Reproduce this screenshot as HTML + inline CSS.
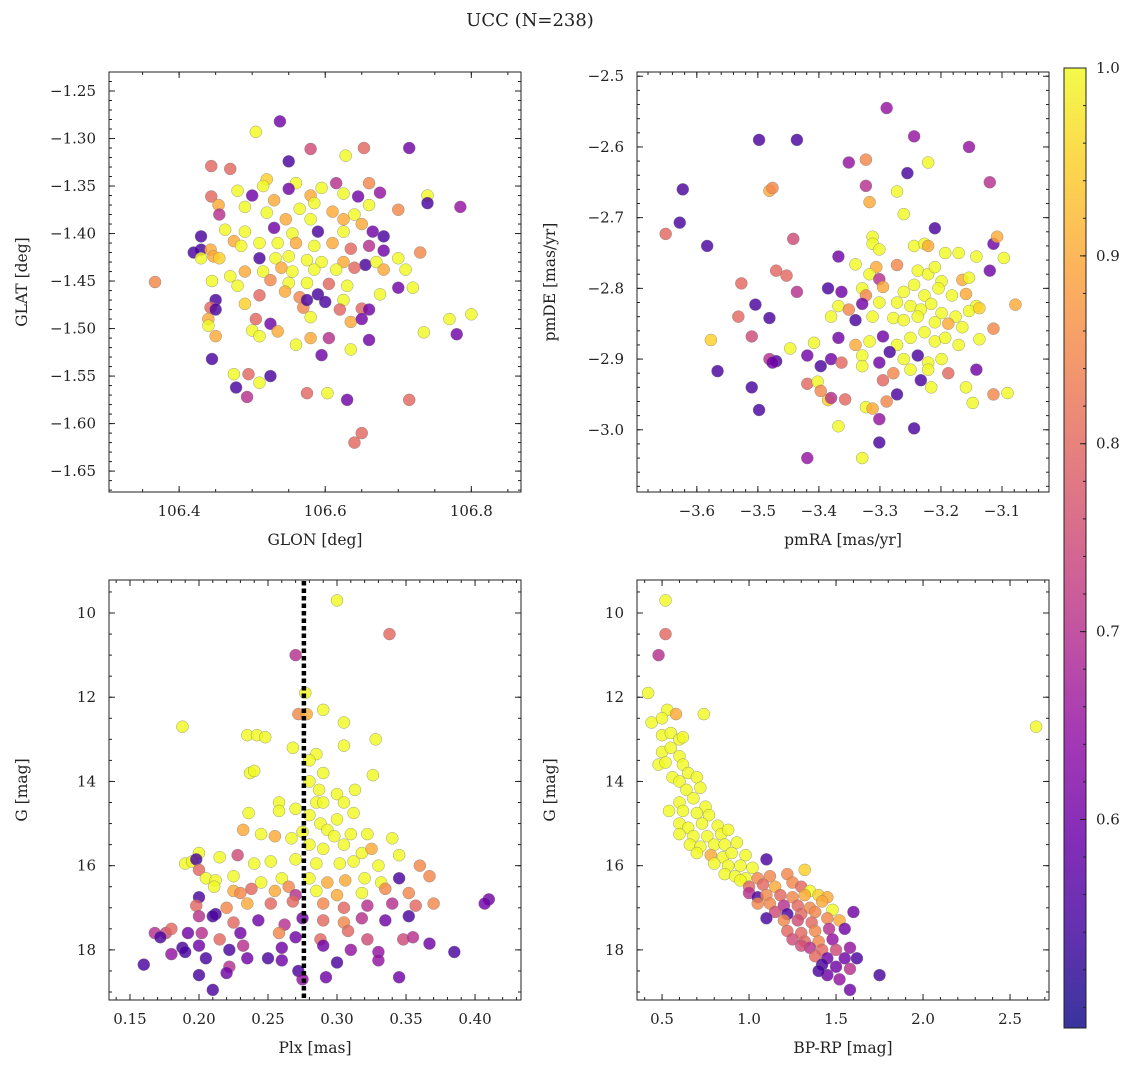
<!DOCTYPE html>
<html><head><meta charset="utf-8"><style>
html,body{margin:0;padding:0;background:#fff}
svg text{font-family:"DejaVu Serif","Liberation Serif",serif;fill:#222}
</style></head><body>
<svg id="fig" width="1136" height="1068" viewBox="0 0 1136 1068" xmlns="http://www.w3.org/2000/svg">
<defs>
<linearGradient id="plasma" x1="0" y1="1" x2="0" y2="0">
<stop offset="0" stop-color="#0d0887"/><stop offset="0.1" stop-color="#41049d"/><stop offset="0.2" stop-color="#6a00a8"/><stop offset="0.3" stop-color="#8f0da4"/><stop offset="0.4" stop-color="#b12a90"/><stop offset="0.5" stop-color="#cc4778"/><stop offset="0.6" stop-color="#e16462"/><stop offset="0.7" stop-color="#f2844b"/><stop offset="0.8" stop-color="#fca636"/><stop offset="0.9" stop-color="#fcce25"/><stop offset="1" stop-color="#f0f921"/>
</linearGradient>
</defs>
<text x="530" y="26" font-size="18" text-anchor="middle">UCC (N=238)</text>
</svg>
<script>
// Panel 1: GLON / GLAT / probability
const p1Lon=[106.367,106.538,106.505,106.653,106.715,106.628,106.58,106.55,106.444,106.47,106.444,106.52,106.515,106.56,106.48,106.50,106.55,106.58,106.595,106.625,106.66,106.645,106.675,106.74,106.74,106.7,106.785,106.615,106.454,106.49,106.53,106.565,106.585,106.61,106.64,106.66,106.455,106.52,106.546,106.58,106.625,106.65,106.463,106.49,106.53,106.555,106.59,106.625,106.665,106.68,106.43,106.43,106.443,106.475,106.485,106.51,106.535,106.56,106.585,106.61,106.635,106.66,106.68,106.73,106.42,106.43,106.447,106.455,106.51,106.532,106.55,106.575,106.595,106.625,106.655,106.67,106.7,106.49,106.515,106.54,106.555,106.585,106.615,106.64,106.68,106.71,106.47,106.525,106.55,106.575,106.605,106.63,106.48,106.445,106.51,106.545,106.565,106.59,106.625,106.675,106.7,106.72,106.45,106.443,106.49,106.6,106.57,106.62,106.65,106.66,106.44,106.58,106.635,106.65,106.505,106.525,106.44,106.77,106.8,106.735,106.78,106.45,106.5,106.51,106.535,106.56,106.58,106.605,106.66,106.595,106.635,106.445,106.525,106.475,106.51,106.478,106.495,106.493,106.575,106.603,106.63,106.715,106.65,106.64,106.45,106.575];
const p1Lat=[-1.451,-1.282,-1.293,-1.310,-1.310,-1.318,-1.311,-1.324,-1.329,-1.332,-1.361,-1.343,-1.35,-1.347,-1.355,-1.36,-1.353,-1.36,-1.352,-1.358,-1.347,-1.361,-1.357,-1.36,-1.368,-1.375,-1.372,-1.347,-1.37,-1.372,-1.365,-1.374,-1.368,-1.377,-1.38,-1.37,-1.38,-1.378,-1.385,-1.385,-1.385,-1.39,-1.396,-1.398,-1.394,-1.4,-1.398,-1.398,-1.398,-1.403,-1.403,-1.417,-1.417,-1.408,-1.413,-1.41,-1.41,-1.41,-1.413,-1.41,-1.416,-1.413,-1.418,-1.42,-1.42,-1.426,-1.424,-1.426,-1.426,-1.426,-1.424,-1.428,-1.43,-1.43,-1.433,-1.43,-1.426,-1.44,-1.44,-1.436,-1.44,-1.438,-1.438,-1.436,-1.438,-1.438,-1.445,-1.449,-1.452,-1.452,-1.453,-1.455,-1.455,-1.45,-1.465,-1.461,-1.467,-1.464,-1.47,-1.464,-1.457,-1.457,-1.47,-1.478,-1.474,-1.472,-1.478,-1.48,-1.479,-1.48,-1.49,-1.488,-1.493,-1.49,-1.49,-1.495,-1.497,-1.49,-1.485,-1.504,-1.506,-1.508,-1.502,-1.508,-1.503,-1.517,-1.51,-1.51,-1.512,-1.528,-1.522,-1.532,-1.55,-1.548,-1.557,-1.562,-1.548,-1.572,-1.568,-1.568,-1.575,-1.575,-1.61,-1.62,-1.48,-1.47];
const p1Prob=[0.85,0.6,1.0,0.8,0.6,1.0,0.75,0.55,0.8,0.8,0.8,0.95,1.0,1.0,1.0,0.6,0.6,0.9,1.0,1.0,0.85,0.6,0.65,1.0,0.55,0.85,0.65,0.7,0.9,1.0,0.9,1.0,1.0,0.9,1.0,1.0,0.7,1.0,0.9,1.0,0.9,0.9,1.0,1.0,0.6,1.0,0.55,1.0,0.6,0.55,0.55,0.55,0.9,0.9,1.0,1.0,1.0,0.9,1.0,0.9,0.8,0.7,0.6,0.85,0.55,1.0,0.9,0.95,0.55,1.0,1.0,1.0,1.0,0.9,0.55,1.0,1.0,0.9,1.0,0.9,1.0,1.0,1.0,0.8,0.9,1.0,1.0,0.85,1.0,1.0,0.8,1.0,1.0,1.0,0.8,0.9,0.85,0.55,1.0,1.0,0.6,1.0,0.55,0.8,0.95,0.55,0.85,0.8,0.8,0.6,0.9,1.0,0.9,0.6,0.8,0.6,1.0,1.0,1.0,1.0,0.6,0.9,1.0,1.0,0.9,1.0,0.9,0.7,0.6,0.6,1.0,0.55,0.55,1.0,1.0,0.55,0.8,0.7,0.8,1.0,0.6,0.8,0.8,0.8,0.55,0.55];
// Panel 2: pmRA / pmDE
const p2RA=[-3.289,-3.498,-3.436,-3.244,-3.154,-3.351,-3.323,-3.255,-3.221,-3.623,-3.481,-3.476,-3.272,-3.323,-3.12,-3.628,-3.651,-3.583,-3.442,-3.261,-3.317,-3.21,-3.114,-3.108,-3.097,-3.312,-3.312,-3.301,-3.244,-3.227,-3.221,-3.193,-3.171,-3.142,-3.368,-3.34,-3.306,-3.272,-3.47,-3.453,-3.436,-3.527,-3.317,-3.301,-3.238,-3.221,-3.21,-3.199,-3.165,-3.154,-3.12,-3.385,-3.363,-3.329,-3.323,-3.295,-3.261,-3.244,-3.227,-3.204,-3.182,-3.159,-3.142,-3.078,-3.504,-3.368,-3.351,-3.329,-3.301,-3.272,-3.25,-3.233,-3.216,-3.199,-3.176,-3.154,-3.137,-3.532,-3.481,-3.38,-3.34,-3.312,-3.278,-3.261,-3.238,-3.21,-3.188,-3.165,-3.114,-3.51,-3.577,-3.408,-3.368,-3.34,-3.317,-3.295,-3.272,-3.25,-3.227,-3.21,-3.193,-3.171,-3.137,-3.447,-3.419,-3.38,-3.329,-3.301,-3.284,-3.261,-3.238,-3.221,-3.199,-3.566,-3.481,-3.47,-3.397,-3.363,-3.329,-3.278,-3.25,-3.221,-3.188,-3.142,-3.51,-3.419,-3.402,-3.397,-3.385,-3.38,-3.295,-3.272,-3.233,-3.216,-3.159,-3.148,-3.114,-3.091,-3.498,-3.323,-3.312,-3.301,-3.357,-3.289,-3.368,-3.419,-3.329,-3.301,-3.244,-3.476];
const p2DE=[-2.545,-2.59,-2.59,-2.585,-2.60,-2.622,-2.618,-2.637,-2.622,-2.66,-2.662,-2.658,-2.663,-2.655,-2.65,-2.707,-2.723,-2.74,-2.73,-2.695,-2.678,-2.715,-2.737,-2.727,-2.757,-2.727,-2.737,-2.745,-2.74,-2.737,-2.74,-2.75,-2.75,-2.755,-2.755,-2.766,-2.77,-2.767,-2.775,-2.782,-2.805,-2.793,-2.78,-2.787,-2.775,-2.78,-2.77,-2.79,-2.788,-2.785,-2.775,-2.8,-2.805,-2.8,-2.81,-2.798,-2.805,-2.795,-2.81,-2.8,-2.81,-2.808,-2.825,-2.823,-2.823,-2.825,-2.83,-2.822,-2.82,-2.82,-2.825,-2.83,-2.822,-2.835,-2.84,-2.832,-2.828,-2.84,-2.842,-2.84,-2.845,-2.84,-2.842,-2.845,-2.84,-2.848,-2.85,-2.855,-2.857,-2.868,-2.873,-2.877,-2.87,-2.88,-2.875,-2.868,-2.88,-2.87,-2.862,-2.875,-2.87,-2.88,-2.872,-2.885,-2.895,-2.9,-2.895,-2.905,-2.89,-2.9,-2.895,-2.905,-2.9,-2.917,-2.9,-2.903,-2.91,-2.905,-2.91,-2.92,-2.915,-2.915,-2.92,-2.915,-2.94,-2.935,-2.932,-2.945,-2.958,-2.955,-2.93,-2.95,-2.93,-2.94,-2.94,-2.962,-2.95,-2.948,-2.972,-2.968,-2.97,-2.985,-2.957,-2.96,-2.995,-3.04,-3.04,-3.018,-2.998,-2.905];
const p2Prob=[0.65,0.55,0.55,0.65,0.65,0.65,0.85,0.55,1.0,0.55,0.9,0.85,1.0,0.7,0.7,0.55,0.8,0.55,0.75,1.0,0.9,0.55,0.6,0.9,1.0,1.0,1.0,1.0,1.0,1.0,0.9,1.0,1.0,1.0,0.6,1.0,0.9,0.85,0.8,0.8,0.7,0.8,1.0,0.7,1.0,1.0,1.0,1.0,0.9,1.0,0.6,0.55,0.6,1.0,0.85,0.9,1.0,1.0,1.0,1.0,1.0,0.9,1.0,0.9,0.55,1.0,0.85,0.6,1.0,1.0,1.0,1.0,1.0,1.0,1.0,1.0,0.95,0.8,0.55,1.0,0.55,1.0,1.0,1.0,1.0,1.0,0.9,1.0,0.85,0.75,0.95,1.0,0.6,0.9,1.0,0.6,1.0,1.0,1.0,1.0,1.0,1.0,1.0,1.0,0.6,0.6,1.0,0.6,0.55,1.0,0.55,1.0,1.0,0.55,0.7,0.55,0.55,0.8,1.0,0.85,1.0,1.0,0.8,0.6,0.55,0.8,1.0,0.85,0.95,0.7,0.8,0.55,0.55,1.0,1.0,1.0,0.85,1.0,0.55,1.0,0.9,0.65,0.8,0.85,1.0,0.65,1.0,0.55,0.55,0.6];
// Panel 3: Plx / G
const p3Plx=[0.30,0.338,0.27,0.277,0.272,0.278,0.188,0.29,0.235,0.242,0.248,0.305,0.268,0.285,0.305,0.328,0.28,0.29,0.237,0.24,0.28,0.326,0.287,0.3,0.313,0.236,0.258,0.27,0.285,0.29,0.305,0.258,0.28,0.3,0.312,0.288,0.275,0.293,0.298,0.31,0.322,0.232,0.245,0.255,0.267,0.28,0.29,0.305,0.318,0.325,0.34,0.2,0.19,0.195,0.215,0.228,0.24,0.252,0.27,0.285,0.302,0.312,0.33,0.345,0.36,0.198,0.2,0.205,0.212,0.225,0.245,0.26,0.265,0.28,0.293,0.306,0.32,0.332,0.345,0.367,0.211,0.225,0.23,0.238,0.255,0.27,0.285,0.3,0.318,0.335,0.352,0.2,0.198,0.212,0.22,0.235,0.252,0.268,0.29,0.305,0.322,0.34,0.357,0.37,0.41,0.407,0.2,0.21,0.225,0.243,0.262,0.275,0.29,0.305,0.318,0.335,0.352,0.176,0.168,0.18,0.192,0.202,0.215,0.23,0.258,0.27,0.288,0.308,0.322,0.348,0.355,0.367,0.172,0.188,0.2,0.222,0.232,0.25,0.26,0.29,0.31,0.33,0.385,0.18,0.19,0.205,0.222,0.235,0.26,0.272,0.3,0.33,0.16,0.2,0.275,0.292,0.345,0.21,0.22];
const p3G=[9.7,10.5,11.0,11.9,12.4,12.4,12.7,12.3,12.9,12.9,12.95,12.6,13.2,13.35,13.15,13.0,13.5,13.8,13.8,13.75,14.0,13.85,14.2,14.3,14.2,14.75,14.5,14.65,14.5,14.5,14.5,14.7,14.8,14.9,14.75,15.0,15.2,15.15,15.3,15.25,15.25,15.15,15.25,15.3,15.35,15.5,15.6,15.5,15.7,15.6,15.35,15.7,15.95,15.9,15.8,15.75,15.95,15.9,15.85,15.95,15.95,15.9,16.0,15.75,16.0,15.85,16.1,16.3,16.35,16.25,16.4,16.3,16.5,16.3,16.4,16.35,16.3,16.4,16.3,16.25,16.5,16.6,16.65,16.55,16.6,16.7,16.6,16.7,16.65,16.55,16.65,16.75,16.95,17.15,17.0,16.9,16.9,16.85,16.9,17.0,16.95,16.9,16.95,16.9,16.8,16.9,17.2,17.2,17.35,17.3,17.4,17.25,17.3,17.35,17.25,17.3,17.2,17.6,17.6,17.5,17.6,17.6,17.75,17.6,17.6,17.7,17.75,17.55,17.75,17.75,17.7,17.85,17.7,17.95,17.9,18.0,17.9,18.2,17.95,17.9,18.0,18.05,18.05,18.1,18.05,18.2,18.4,18.2,18.25,18.5,18.3,18.25,18.35,18.6,18.7,18.65,18.65,18.95,18.55];
const p3Prob=[1.0,0.8,0.7,1.0,0.85,0.9,1.0,1.0,1.0,1.0,1.0,1.0,1.0,1.0,1.0,1.0,1.0,1.0,1.0,1.0,1.0,1.0,1.0,1.0,1.0,1.0,1.0,1.0,1.0,1.0,1.0,1.0,1.0,1.0,1.0,1.0,1.0,1.0,1.0,1.0,1.0,0.9,1.0,0.9,1.0,1.0,1.0,1.0,1.0,0.9,1.0,1.0,1.0,1.0,1.0,0.75,1.0,1.0,1.0,1.0,1.0,1.0,1.0,1.0,0.85,0.55,0.8,1.0,1.0,1.0,1.0,1.0,0.85,1.0,0.9,0.9,1.0,1.0,0.55,0.85,1.0,0.9,0.85,0.8,0.9,0.7,1.0,0.9,1.0,0.85,0.85,0.55,0.8,0.55,0.85,0.9,0.8,0.8,0.85,0.8,0.7,0.7,0.8,0.85,0.6,0.6,0.7,0.55,0.8,0.6,0.7,0.6,0.8,0.85,0.7,0.6,0.55,0.75,0.7,0.8,0.6,0.7,0.8,0.6,0.85,0.6,0.8,0.8,0.75,0.75,0.7,0.6,0.55,0.55,0.6,0.55,0.7,0.55,0.6,0.6,0.65,0.65,0.55,0.65,0.55,0.55,0.7,0.6,0.6,0.55,0.55,0.65,0.55,0.55,0.65,0.6,0.6,0.55,0.6];
// Panel 4: BP-RP / G
const p4Col=[0.52,0.52,0.48,0.42,2.65,0.44,0.53,0.58,0.74,0.5,0.5,0.55,0.6,0.62,0.5,0.55,0.6,0.48,0.52,0.62,0.65,0.56,0.6,0.7,0.64,0.72,0.54,0.6,0.68,0.75,0.62,0.7,0.77,0.6,0.65,0.73,0.82,0.6,0.68,0.76,0.84,0.88,0.66,0.72,0.8,0.86,0.93,0.7,0.78,0.85,0.9,0.98,1.1,0.8,0.88,0.95,1.02,0.86,0.92,0.98,1.05,1.12,1.22,1.32,0.95,1.0,1.08,1.15,1.25,1.3,1.35,1.0,1.05,1.1,1.18,1.25,1.32,1.4,1.45,1.05,1.12,1.2,1.28,1.35,1.42,1.15,1.22,1.3,1.38,1.48,1.6,1.1,1.2,1.28,1.36,1.45,1.52,1.22,1.3,1.38,1.46,1.55,1.25,1.32,1.4,1.48,1.35,1.42,1.5,1.58,1.38,1.45,1.55,1.62,1.42,1.5,1.58,1.45,1.52,1.58,1.75,1.3,1.4];
const p4G=[9.7,10.5,11.0,11.9,12.7,12.6,12.3,12.4,12.4,12.5,12.9,12.85,13.0,12.95,13.3,13.2,13.4,13.6,13.55,13.6,13.8,13.9,14.0,13.9,14.2,14.15,14.7,14.5,14.4,14.6,14.7,14.75,14.8,15.0,15.1,15.0,15.05,15.25,15.3,15.3,15.25,15.15,15.5,15.55,15.5,15.5,15.45,15.7,15.75,15.8,15.7,15.75,15.85,15.95,16.0,16.0,16.05,16.2,16.25,16.3,16.3,16.25,16.2,16.1,16.35,16.5,16.45,16.5,16.4,16.5,16.6,16.65,16.75,16.7,16.7,16.75,16.7,16.7,16.75,16.9,16.9,16.95,16.95,17.0,16.85,17.1,17.15,17.15,17.1,17.05,17.1,17.25,17.3,17.3,17.35,17.25,17.3,17.55,17.6,17.55,17.5,17.5,17.75,17.8,17.8,17.75,17.95,18.0,18.0,17.95,18.15,18.2,18.2,18.2,18.35,18.4,18.45,18.6,18.7,18.95,18.6,17.9,18.5];
const p4Prob=[1.0,0.8,0.7,1.0,1.0,1.0,1.0,0.9,1.0,1.0,1.0,1.0,1.0,1.0,1.0,1.0,1.0,1.0,1.0,1.0,1.0,1.0,1.0,1.0,1.0,1.0,1.0,1.0,1.0,1.0,1.0,1.0,1.0,1.0,1.0,1.0,1.0,1.0,1.0,1.0,1.0,1.0,1.0,1.0,1.0,1.0,1.0,1.0,0.9,1.0,1.0,1.0,0.55,1.0,1.0,1.0,1.0,1.0,1.0,1.0,0.85,0.85,0.85,0.95,1.0,0.8,0.8,0.9,0.85,0.8,1.0,0.7,0.55,0.85,0.8,0.85,0.9,0.95,0.9,0.85,0.85,0.7,0.8,0.85,0.9,0.75,0.55,0.8,0.85,1.0,0.6,0.55,0.85,0.75,0.8,0.85,0.9,0.8,0.8,0.85,0.7,0.6,0.75,0.8,0.85,0.65,0.7,0.8,0.75,0.65,0.8,0.6,0.6,0.55,0.55,0.6,0.7,0.6,0.65,0.6,0.55,0.75,0.55];
const cbTicks=[0.6,0.7,0.8,0.9,1.0];
const cbMin=0.489, cbMax=1.0;

const NS='http://www.w3.org/2000/svg';
const svg=document.getElementById('fig');
function mk(tag,attrs,parent){const e=document.createElementNS(NS,tag);for(const k in attrs)e.setAttribute(k,attrs[k]);(parent||svg).appendChild(e);return e;}
const stops=[[13,8,135],[65,4,157],[106,0,168],[143,13,164],[177,42,144],[204,71,120],[225,100,98],[242,132,75],[252,166,54],[252,206,37],[240,249,33]];
function plasma(v){let t=(v-cbMin)/(cbMax-cbMin);t=Math.max(0,Math.min(1,t))*10;const i=Math.min(9,Math.floor(t)),f=t-i;const a=stops[i],b=stops[i+1];return 'rgb('+a.map((c,j)=>Math.round(c+(b[j]-c)*f)).join(',')+')';}
function fmt(v,d){return v.toFixed(d).replace('-','\u2212');}

function panel(name,box,xr,yr,xMaj,xMin,yMaj,yMin,xd,yd,xlab,ylab,xs,ys,cs,invY){
  const [L,T,R,B]=box;
  const sx=v=>L+(v-xr[0])/(xr[1]-xr[0])*(R-L);
  const sy=invY?(v=>T+(v-yr[0])/(yr[1]-yr[0])*(B-T)):(v=>B-(v-yr[0])/(yr[1]-yr[0])*(B-T));
  const g=mk('g',{});
  
  
  const pts=mk('g',{},g);
  
  
  for(let i=0;i<xs.length;i++){
    const c=mk('circle',{cx:sx(xs[i]),cy:sy(ys[i]),r:6,fill:plasma(cs[i]),'fill-opacity':0.82,stroke:'#777','stroke-width':0.5,'stroke-opacity':0.7},pts);
    
    
  }
  const ax=mk('g',{stroke:'#222','stroke-width':1},g);
  
  
  const ticks=(lo,hi,step)=>{const out=[];const s=Math.ceil(lo/step-1e-6);for(let k=s;k*step<=hi+1e-9;k++)out.push(+(k*step).toFixed(6));return out;};
  ticks(xr[0],xr[1],xMin).forEach(v=>{const x=sx(v);mk('line',{x1:x,x2:x,y1:B,y2:B-3},ax);mk('line',{x1:x,x2:x,y1:T,y2:T+3},ax);});
  ticks(Math.min(yr[0],yr[1]),Math.max(yr[0],yr[1]),yMin).forEach(v=>{const y=sy(v);mk('line',{x1:L,x2:L+3,y1:y,y2:y},ax);mk('line',{x1:R,x2:R-3,y1:y,y2:y},ax);});
  ticks(xr[0],xr[1],xMaj).forEach(v=>{const x=sx(v);mk('line',{x1:x,x2:x,y1:B,y2:B-6},ax);mk('line',{x1:x,x2:x,y1:T,y2:T+6},ax);
    const t=mk('text',{x:x,y:B+24,'font-size':15,'text-anchor':'middle',stroke:'none'},g);t.textContent=fmt(v,xd);
    
    });
  ticks(Math.min(yr[0],yr[1]),Math.max(yr[0],yr[1]),yMaj).forEach(v=>{const y=sy(v);mk('line',{x1:L,x2:L+6,y1:y,y2:y},ax);mk('line',{x1:R,x2:R-6,y1:y,y2:y},ax);
    const t=mk('text',{x:L-13,y:y+5,'font-size':15,'text-anchor':'end',stroke:'none'},g);t.textContent=fmt(v,yd);
    
    });
  mk('rect',{x:L,y:T,width:R-L,height:B-T,fill:'none'},ax);
  const xl=mk('text',{x:(L+R)/2,y:B+53,'font-size':15.5,'text-anchor':'middle'},g);xl.textContent=xlab;
  
  
  const yl=mk('text',{x:0,y:0,'font-size':15.5,'text-anchor':'middle',transform:'translate('+(L-82)+','+((T+B)/2)+') rotate(-90)'},g);yl.textContent=ylab;
  
  
  return {sx,sy,g};
}
panel('glon-glat-panel',[109,72,521,492],[106.304,106.868],[-1.672,-1.23],0.2,0.05,0.05,0.01,1,2,'GLON [deg]','GLAT [deg]',p1Lon,p1Lat,p1Prob,false);
panel('pm-panel',[637,72,1049,492],[-3.698,-3.023],[-3.088,-2.494],0.1,0.02,0.1,0.02,1,1,'pmRA [mas/yr]','pmDE [mas/yr]',p2RA,p2DE,p2Prob,false);
const p3=panel('plx-g-panel',[109,580,521,1000],[0.1348,0.4333],[9.216,19.19],0.05,0.01,2,0.5,2,0,'Plx [mas]','G [mag]',p3Plx,p3G,p3Prob,true);
panel('cmd-panel',[637,580,1049,1000],[0.356,2.724],[9.216,19.19],0.5,0.1,2,0.5,1,0,'BP-RP [mag]','G [mag]',p4Col,p4G,p4Prob,true);
const plxMedian=0.276;
const dl=mk('line',{x1:p3.sx(plxMedian),x2:p3.sx(plxMedian),y1:581,y2:999,stroke:'#000','stroke-width':4.5,'stroke-dasharray':'4.5 3'});


// colorbar
const cb=mk('g',{});


mk('rect',{x:1064,y:68,width:22,height:960,fill:'url(#plasma)','fill-opacity':0.82,stroke:'#222','stroke-width':1},cb);
const cy=v=>1028-(v-cbMin)/(cbMax-cbMin)*960;
for(let v=0.5;v<=1.0001;v+=0.02){const y=cy(v);mk('line',{x1:1086,x2:1083,y1:y,y2:y,stroke:'#222'},cb);}
cbTicks.forEach(v=>{const y=cy(v);mk('line',{x1:1086,x2:1080,y1:y,y2:y,stroke:'#222'},cb);
  const t=mk('text',{x:1096,y:y+5,'font-size':15},cb);t.textContent=v.toFixed(1);
  
  });
</script>
</body></html>
